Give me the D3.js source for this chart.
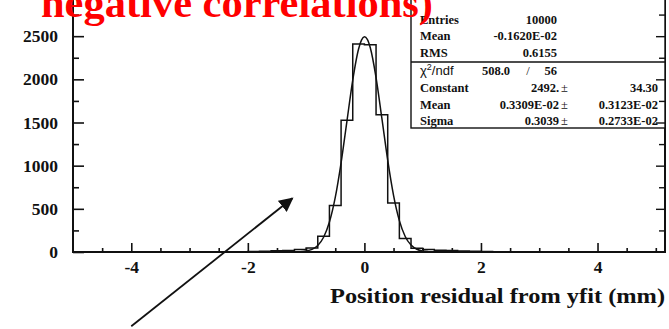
<!DOCTYPE html>
<html>
<head>
<meta charset="utf-8">
<script src="https://cdn.jsdelivr.net/npm/d3@7"></script>
<style>
body { margin: 0; background: #fff; }
svg { display: block; }
text { font-family: "Liberation Serif", "Times New Roman", serif; font-weight: bold; fill: #111; }
</style>
</head>
<body>
<svg id="chart" width="669" height="329"></svg>
<script>
// histogram: 50 bins of width 0.2 between -5 and 5
const binLow = -5, binWidth = 0.2;
const binCounts = [
    0, 0, 0, 0, 0, 0, 0, 0, 0, 0,
    0, 1, 2, 3, 4, 6, 9, 14, 18, 28,
    45, 181, 540, 1525, 2410, 2400, 1591, 568, 156, 42,
    30, 20, 16, 12, 8, 6, 4, 3, 2, 1,
    0, 0, 0, 0, 0, 0, 0, 0, 0, 0
];

// gaussian fit curve
const fitX = [-5, -1.6, -1.2, -1.1, -1.0, -0.9, -0.8, -0.7, -0.6, -0.5, -0.4, -0.3, -0.2, -0.1, -0.05,
              0, 0.05, 0.1, 0.2, 0.3, 0.4, 0.5, 0.6, 0.7, 0.8, 0.9, 1.0, 1.1, 1.2, 1.6, 5];
const fitY = [0, 0, 1, 3, 11, 30, 76, 171, 347, 632, 1033, 1514, 1992, 2352, 2454,
              2492, 2463, 2369, 2021, 1547, 1063, 656, 363, 180, 80, 32, 12, 4, 1, 0, 0];

const xTicks = d3.range(-9, 11).map(i => i / 2);
const xLabels = [-4, -2, 0, 2, 4];
const yTicks = d3.range(0, 12).map(i => i * 250);
const yLabels = [0, 500, 1000, 1500, 2000, 2500];

const statsTop = [["Entries", "10000"], ["Mean", "-0.1620E-02"], ["RMS", "0.6155"]];
const chi2 = ["508.0", "56"];
const fitPars = [["Constant", "2492.", "34.30"], ["Mean", "0.3309E-02", "0.3123E-02"], ["Sigma", "0.3039", "0.2733E-02"]];

const titleText = "negative correlations)";
const xTitle = "Position residual from yfit (mm)";
// arrow annotation in data units: tail, head
const arrowFrom = [-4.0, -860], arrowTo = [-1.236, 622];

const svg = d3.select('#chart');
const left = 73, right = 665, bottom = 252;

const x = d3.scaleLinear().domain([-5, 5]).range([73, 655.8]);
const y = d3.scaleLinear().domain([0, 3000]).range([bottom, -7]);

// frame
svg.append('path')
    .attr('d', `M${left},-5V${bottom}H${right}V-5`)
    .attr('fill', 'none').attr('stroke', '#111').attr('stroke-width', 2);

// x axis
const gx = svg.append('g')
    .attr('transform', `translate(0,${bottom})`)
    .call(d3.axisBottom(x).tickValues(xTicks).tickSize(-4).tickPadding(9)
        .tickFormat(d => xLabels.includes(d) ? d : ''));
gx.select('.domain').remove();
gx.selectAll('.tick line').attr('y2', d => xLabels.includes(d) ? -9 : -4)
    .attr('stroke', '#111').attr('stroke-width', 1.6);
gx.selectAll('.tick text').style('font-size', '17.5px').attr('fill', '#111')
    .style('font-family', '"Liberation Serif", serif').style('font-weight', 'bold');

// y axis
const gy = svg.append('g')
    .attr('transform', `translate(${left},0)`)
    .call(d3.axisLeft(y).tickValues(yTicks).tickSize(-6).tickPadding(15)
        .tickFormat(d => yLabels.includes(d) ? d : ''));
gy.select('.domain').remove();
gy.selectAll('.tick line').attr('x2', d => yLabels.includes(d) ? 11 : 6)
    .attr('stroke', '#111').attr('stroke-width', 1.6);
gy.selectAll('.tick text').style('font-size', '17.5px').attr('fill', '#111')
    .style('font-family', '"Liberation Serif", serif').style('font-weight', 'bold');

// histogram outline
const histPts = binCounts.map((c, i) => [binLow + i * binWidth, c]);
histPts.push([binLow + binCounts.length * binWidth, binCounts[binCounts.length - 1]]);
svg.append('path')
    .datum(histPts)
    .attr('d', d3.line().x(d => x(d[0])).y(d => y(d[1])).curve(d3.curveStepAfter))
    .attr('fill', 'none').attr('stroke', '#111').attr('stroke-width', 1.5);

// fit curve
svg.append('path')
    .datum(fitX.map((v, i) => [v, fitY[i]]))
    .attr('d', d3.line().x(d => x(d[0])).y(d => y(d[1])).curve(d3.curveMonotoneX))
    .attr('fill', 'none').attr('stroke', '#111').attr('stroke-width', 1.5);

// stats box
const box = svg.append('g');
box.append('rect')
    .attr('x', 411).attr('y', -5).attr('width', right - 411).attr('height', 133)
    .attr('fill', '#fff').attr('stroke', '#111').attr('stroke-width', 1.4);
box.append('line')
    .attr('x1', 411).attr('x2', right).attr('y1', 62).attr('y2', 62)
    .attr('stroke', '#111').attr('stroke-width', 1.4);

statsTop.forEach((r, i) => {
    const by = 23.5 + i * 16.7;
    box.append('text').attr('x', 420).attr('y', by).style('font-size', '12.5px').text(r[0]);
    box.append('text').attr('x', 557).attr('y', by).attr('text-anchor', 'end').style('font-size', '12.5px').text(r[1]);
});

const chiRow = box.append('text').attr('x', 420).attr('y', 75)
    .style('font-family', '"Liberation Sans", Arial, sans-serif').style('font-weight', 'normal')
    .style('font-size', '13px');
chiRow.append('tspan').text('χ');
chiRow.append('tspan').attr('dy', -5).style('font-size', '9px').text('2');
chiRow.append('tspan').attr('dy', 5).text('/ndf');
box.append('text').attr('x', 510).attr('y', 74.5).attr('text-anchor', 'end').style('font-size', '12.5px').text(chi2[0]);
box.append('text').attr('x', 528).attr('y', 74.5).attr('text-anchor', 'middle').style('font-size', '12.5px').style('font-weight', 'normal').text('/');
box.append('text').attr('x', 557).attr('y', 74.5).attr('text-anchor', 'end').style('font-size', '12.5px').text(chi2[1]);

fitPars.forEach((r, i) => {
    const by = 92 + i * 16.6;
    box.append('text').attr('x', 420).attr('y', by).style('font-size', '12.5px').text(r[0]);
    box.append('text').attr('x', 559).attr('y', by).attr('text-anchor', 'end').style('font-size', '12.5px').text(r[1]);
    box.append('text').attr('x', 561).attr('y', by).style('font-size', '12.5px').style('font-weight', 'normal').text('±');
    box.append('text').attr('x', 658).attr('y', by).attr('text-anchor', 'end').style('font-size', '12.5px').text(r[2]);
});

// right axis ticks (drawn over the box)
const gr = svg.append('g')
    .attr('transform', `translate(${right},0)`)
    .call(d3.axisRight(y).tickValues(yTicks.filter(d => d > 0)).tickSize(-6).tickFormat(''));
gr.select('.domain').remove();
gr.selectAll('.tick line').attr('x2', d => yLabels.includes(d) ? -9 : -6)
    .attr('stroke', '#111').attr('stroke-width', 1.4);

// x axis title
svg.append('text')
    .attr('x', 665).attr('y', 303).attr('text-anchor', 'end')
    .attr('textLength', 335).attr('lengthAdjust', 'spacingAndGlyphs')
    .style('font-size', '22px').text(xTitle);

// arrow
svg.append('defs').append('marker')
    .attr('id', 'head').attr('viewBox', '0 0 10 10').attr('refX', 9).attr('refY', 5)
    .attr('markerWidth', 8).attr('markerHeight', 8).attr('markerUnits', 'strokeWidth')
    .attr('orient', 'auto')
    .append('path').attr('d', 'M0,0L10,5L0,10Z').attr('fill', '#111');
svg.append('line')
    .attr('x1', x(arrowFrom[0])).attr('y1', y(arrowFrom[1]))
    .attr('x2', x(arrowTo[0])).attr('y2', y(arrowTo[1]))
    .attr('stroke', '#111').attr('stroke-width', 1.8)
    .attr('marker-end', 'url(#head)');

// red title (partly cut off at the top)
svg.append('text')
    .attr('x', 41).attr('y', 17)
    .attr('textLength', 392).attr('lengthAdjust', 'spacingAndGlyphs')
    .style('font-size', '40px').style('fill', '#ff0000').text(titleText);
</script>
</body>
</html>
